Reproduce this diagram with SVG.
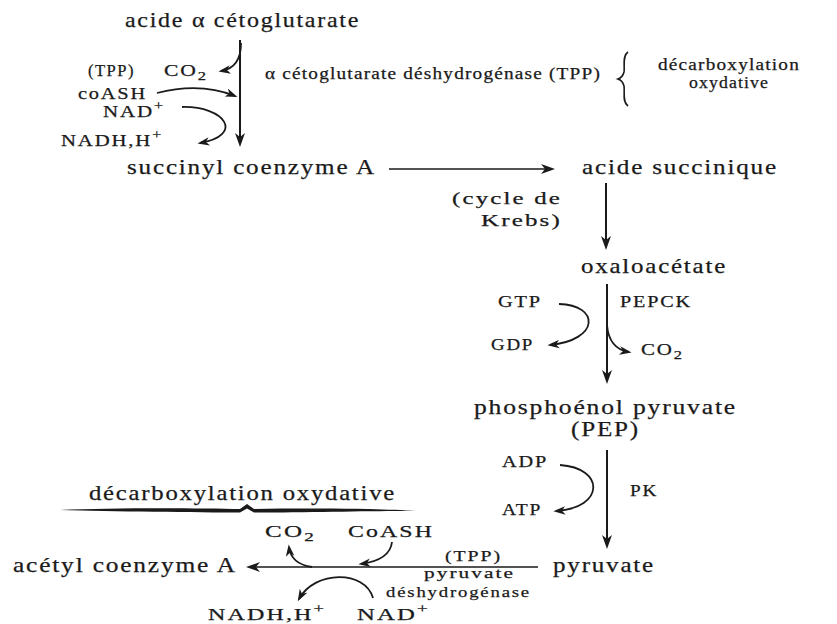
<svg xmlns="http://www.w3.org/2000/svg" width="837" height="624" viewBox="0 0 837 624">
  <style>
    text { font-family: "Liberation Serif", "Times New Roman", serif; fill: #1a1a1a; stroke: #1a1a1a; stroke-width: 0.25; letter-spacing: 1.5px; }
    .m { font-size: 21px; }
    .s { font-size: 16.5px; }
    .b { font-size: 17px; }
    .e { font-size: 16px; letter-spacing: 1px; }
    .p { font-size: 15.5px; }
    .sub { font-size: 13px; }
    .ln { fill: none; stroke: #1a1a1a; }
    .main { stroke-width: 2; }
    .thin { stroke-width: 1.5; }
    .crv { stroke-width: 1.8; }
  </style>
  <defs>
    <marker id="ah" markerUnits="userSpaceOnUse" viewBox="0 0 14 10" markerWidth="14" markerHeight="10" refX="11" refY="5" orient="auto">
      <path d="M0,0 L14,5 L0,10 L4,5 Z" fill="#1a1a1a"/>
    </marker>
    <marker id="ahs" markerUnits="userSpaceOnUse" viewBox="0 0 14 10" markerWidth="12" markerHeight="9" refX="11" refY="5" orient="auto">
      <path d="M0,0 L14,5 L0,10 L4,5 Z" fill="#1a1a1a"/>
    </marker>
  </defs>

  <!-- metabolites -->
  <g id="akg"><text class="m" x="125" y="27" textLength="235" lengthAdjust="spacingAndGlyphs">acide α cétoglutarate</text></g>
  <g id="succoa"><text class="m" x="127" y="174" textLength="249" lengthAdjust="spacingAndGlyphs">succinyl coenzyme A</text></g>
  <g id="succinate"><text class="m" x="582" y="174" textLength="196" lengthAdjust="spacingAndGlyphs">acide succinique</text></g>
  <g id="oaa"><text class="m" x="581" y="273" textLength="146" lengthAdjust="spacingAndGlyphs">oxaloacétate</text></g>
  <g id="pep">
    <text class="m" x="474" y="414" textLength="263" lengthAdjust="spacingAndGlyphs">phosphoénol pyruvate</text>
    <text class="m" x="571" y="436" textLength="69" lengthAdjust="spacingAndGlyphs">(PEP)</text>
  </g>
  <g id="pyruvate"><text class="m" x="553" y="572" textLength="102" lengthAdjust="spacingAndGlyphs">pyruvate</text></g>
  <g id="acetylcoa"><text class="m" x="13" y="572" textLength="224" lengthAdjust="spacingAndGlyphs">acétyl coenzyme A</text></g>

  <!-- cofactors and enzyme, upper step -->
  <g id="step1-labels">
    <text class="b" x="88" y="76" textLength="47" lengthAdjust="spacingAndGlyphs">(TPP)</text>
    <text class="b" x="164" y="76" textLength="44" lengthAdjust="spacingAndGlyphs">CO<tspan class="sub" dy="4">2</tspan></text>
    <text class="b" x="78" y="99" textLength="69" lengthAdjust="spacingAndGlyphs">coASH</text>
    <text class="b" x="103" y="117" textLength="62" lengthAdjust="spacingAndGlyphs">NAD<tspan class="sub" dy="-7">+</tspan></text>
    <text class="b" x="61" y="146" textLength="102" lengthAdjust="spacingAndGlyphs">NADH,H<tspan class="sub" dy="-7">+</tspan></text>
    <text class="e" x="265" y="79" textLength="336" lengthAdjust="spacingAndGlyphs">α cétoglutarate déshydrogénase (TPP)</text>
    <text class="e" x="658" y="70" textLength="142" lengthAdjust="spacingAndGlyphs">décarboxylation</text>
    <text class="e" x="689" y="88" textLength="80" lengthAdjust="spacingAndGlyphs">oxydative</text>
  </g>

  <g id="krebs-label">
    <text class="b" x="452" y="204" textLength="110" lengthAdjust="spacingAndGlyphs">(cycle de</text>
    <text class="b" x="481" y="226" textLength="81" lengthAdjust="spacingAndGlyphs">Krebs)</text>
  </g>

  <g id="pepck-labels">
    <text class="s" x="498" y="307" textLength="44" lengthAdjust="spacingAndGlyphs">GTP</text>
    <text class="s" x="620" y="307" textLength="72" lengthAdjust="spacingAndGlyphs">PEPCK</text>
    <text class="s" x="491" y="350" textLength="43" lengthAdjust="spacingAndGlyphs">GDP</text>
    <text class="s" x="641" y="355" textLength="43" lengthAdjust="spacingAndGlyphs">CO<tspan class="sub" dy="4">2</tspan></text>
  </g>

  <g id="pk-labels">
    <text class="s" x="502" y="467" textLength="46" lengthAdjust="spacingAndGlyphs">ADP</text>
    <text class="s" x="630" y="496" textLength="28" lengthAdjust="spacingAndGlyphs">PK</text>
    <text class="s" x="502" y="515" textLength="40" lengthAdjust="spacingAndGlyphs">ATP</text>
  </g>

  <g id="pdh-labels">
    <text class="m" x="89" y="500" textLength="307" lengthAdjust="spacingAndGlyphs">décarboxylation oxydative</text>
    <text class="b" x="265" y="537" textLength="51" lengthAdjust="spacingAndGlyphs">CO<tspan class="sub" dy="4">2</tspan></text>
    <text class="b" x="348" y="537" textLength="86" lengthAdjust="spacingAndGlyphs">CoASH</text>
    <text class="p" x="445" y="561" textLength="57" lengthAdjust="spacingAndGlyphs">(TPP)</text>
    <text class="p" x="424" y="578" textLength="91" lengthAdjust="spacingAndGlyphs">pyruvate</text>
    <text class="p" x="386" y="597" textLength="145" lengthAdjust="spacingAndGlyphs">déshydrogénase</text>
    <text class="b" x="208" y="620" textLength="118" lengthAdjust="spacingAndGlyphs">NADH,H<tspan class="sub" dy="-7">+</tspan></text>
    <text class="b" x="357" y="620" textLength="73" lengthAdjust="spacingAndGlyphs">NAD<tspan class="sub" dy="-7">+</tspan></text>
  </g>

  <!-- braces -->
  <g id="braces">
    <path class="ln" stroke-width="1.6" d="M628,52 C622,56 625,66 624,72 C623,76 621,78 618,79 C621,80 623,82 624,86 C625,92 622,102 628,106"/>
    <path fill="#1a1a1a" d="M60,510 C110,507.5 200,508 240,509 L247,504 L254,509 C310,508 380,508.5 416,511 C380,510.5 310,512.5 254,512.5 L247,508.5 L240,512.5 C200,512.5 110,511.5 60,510 Z"/>
  </g>

  <!-- connectors -->
  <g id="connectors">
    <path class="ln main" d="M240,40 V144" marker-end="url(#ah)"/>
    <path class="ln thin" d="M389,169 H552" marker-end="url(#ah)"/>
    <path class="ln main" d="M606,183 V247" marker-end="url(#ah)"/>
    <path class="ln main" d="M607,284 V381" marker-end="url(#ah)"/>
    <path class="ln main" d="M607,450 V546" marker-end="url(#ah)"/>
    <path class="ln thin" d="M538,567 H249" marker-end="url(#ah)"/>

    <path class="ln crv" d="M241,43 Q241,68 221,71" marker-end="url(#ahs)"/>
    <path class="ln crv" d="M157,93 Q200,82 235,96" marker-end="url(#ahs)"/>
    <path class="ln crv" d="M182,107 C225,106 245,135 200,143" marker-end="url(#ahs)"/>
    <path class="ln crv" d="M559,304 C600,305 600,340 550,345" marker-end="url(#ahs)"/>
    <path class="ln crv" d="M607,325 Q609,349 629,352" marker-end="url(#ahs)"/>
    <path class="ln crv" d="M560,465 C605,468 605,508 556,511" marker-end="url(#ahs)"/>
    <path class="ln crv" d="M312,567 Q291,564 289,547" marker-end="url(#ahs)"/>
    <path class="ln crv" d="M392,542 Q390,560 361,564" marker-end="url(#ahs)"/>
    <path class="ln crv" d="M373,598 C365,570 315,570 299,599" marker-end="url(#ahs)"/>
  </g>
</svg>
